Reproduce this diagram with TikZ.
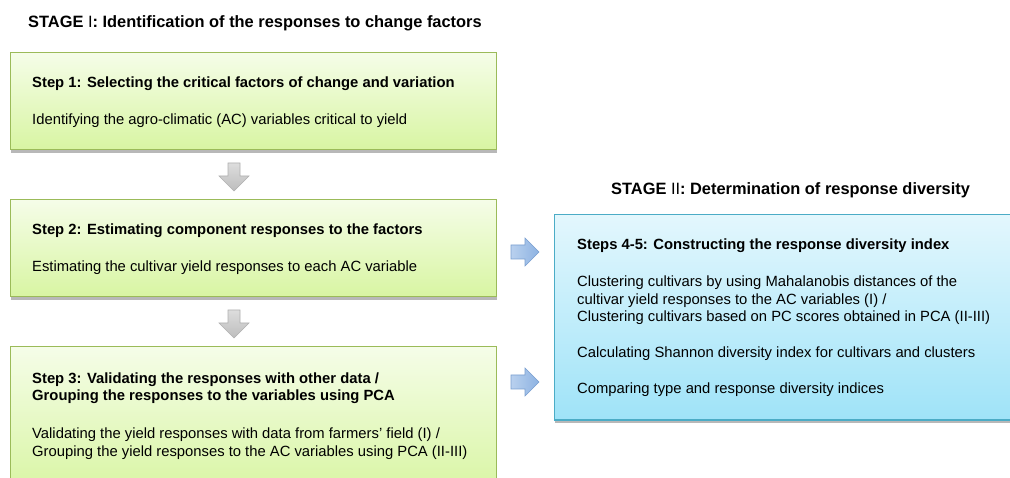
\documentclass[tikz,border=0pt]{standalone}
\usepackage{fontspec}
\setmainfont{Liberation Sans}
\usetikzlibrary{positioning}
\definecolor{gtop}{HTML}{F5FDE8}
\definecolor{gbot}{HTML}{D8F5A2}
\definecolor{gline}{HTML}{9BBB59}
\definecolor{btop}{HTML}{E3F7FD}
\definecolor{bbot}{HTML}{9FE3F8}
\definecolor{bline}{HTML}{4BACC6}
\definecolor{shad}{HTML}{B8B8B8}
\definecolor{arrtop}{HTML}{DDDDDD}
\definecolor{arrbot}{HTML}{BDBDBD}
\definecolor{arrline}{HTML}{B0B0B0}
\definecolor{barrl}{HTML}{B9D0EE}
\definecolor{barrr}{HTML}{8DB3E2}
\definecolor{barrline}{HTML}{7A9FD0}
\tikzset{
  greenbox/.style={draw=gline, line width=1pt, top color=gtop, bottom color=gbot},
  bluebox/.style={draw=bline, line width=1pt, top color=btop, bottom color=bbot},
  shadowbox/.style={fill=shad},
  head/.style={anchor=base west, inner sep=0pt, font=\fontsize{14.8}{17.2}\selectfont\bfseries, align=left},
  body/.style={anchor=base west, inner sep=0pt, font=\fontsize{14.8}{17.8}\selectfont, align=left},
  title/.style={anchor=base west, inner sep=0pt, font=\fontsize{16.4}{19}\selectfont},
  grayarrow/.style={draw=arrline, line width=0.6pt, top color=arrtop, bottom color=arrbot},
  bluearrow/.style={draw=barrline, line width=0.6pt, left color=barrl, right color=barrr},
}
\begin{document}
\begin{tikzpicture}[x=1pt,y=-1pt]
\clip (0,0) rectangle (1010,478);
\fill[white] (0,0) rectangle (1010,478);
% titles
\node[title] (t1) at (28,28) {\textbf{STAGE} I\textbf{: Identification of the responses to change factors}};
\node[title] (t2) at (611,195) {\textbf{STAGE} II\textbf{: Determination of response diversity}};
% shadows
\fill[shadowbox] (11,56) rectangle (497,153);
\fill[shadowbox] (11,203) rectangle (497,300);
\fill[shadowbox] (555,218) rectangle (1020,423);
% boxes
\draw[greenbox] (10,53) rectangle (496,150);
\draw[greenbox] (10,200) rectangle (496,297);
\draw[greenbox] (10,347) rectangle (496,495);
\draw[bluebox] (554,215) rectangle (1020,420);
% box texts
\node[head] (s1h) at (32,88) {Step 1: Selecting the critical factors of change and variation};
\node[body] (s1b) at (32,125) {Identifying the agro-climatic (AC) variables critical to yield};
\node[head] (s2h) at (32,235) {Step 2: Estimating component responses to the factors};
\node[body] (s2b) at (32,272) {Estimating the cultivar yield responses to each AC variable};
\node[head] (s3h) at (32,401) {Step 3: Validating the responses with other data /\\Grouping the responses to the variables using PCA};
\node[body] (s3b) at (32,456) {Validating the yield responses with data from farmers’ field (I) /\\Grouping the yield responses to the AC variables using PCA (II-III)};
\node[head] (s4h) at (577,250) {Steps 4-5: Constructing the response diversity index};
\node[body] (s4a) at (577,322) {Clustering cultivars by using Mahalanobis distances of the\\cultivar yield responses to the AC variables (I) /\\Clustering cultivars based on PC scores obtained in PCA (II-III)};
\node[body] (s4b) at (577,358) {Calculating Shannon diversity index for cultivars and clusters};
\node[body] (s4c) at (577,394) {Comparing type and response diversity indices};
% down arrows
\foreach \yy in {163,310}{
  \draw[grayarrow] (228,\yy) -- (240,\yy) -- (240,\yy+13) -- (249,\yy+13) -- (234,\yy+28) -- (219,\yy+13) -- (228,\yy+13) -- cycle;
}
% right arrows
\foreach \yy in {252,382}{
  \draw[bluearrow] (511,\yy-7) -- (525,\yy-7) -- (525,\yy-14) -- (539,\yy) -- (525,\yy+14) -- (525,\yy+7) -- (511,\yy+7) -- cycle;
}
\end{tikzpicture}
\end{document}
